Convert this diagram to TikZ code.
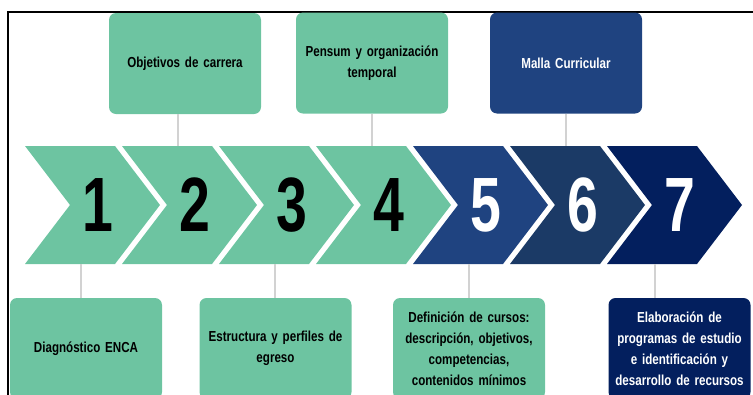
\documentclass[tikz,border=0pt]{standalone}
\usepackage{fontspec}
\setmainfont{Liberation Sans}
\newfontfamily\labelfont{Liberation Sans}[FakeStretch=0.8]
\newfontfamily\digitfont{Liberation Sans}[FakeStretch=0.72]
\usetikzlibrary{calc}

\definecolor{stepgreen}{HTML}{6DC4A1}
\definecolor{stepblueA}{HTML}{1F4380}
\definecolor{stepblueB}{HTML}{1B3A66}
\definecolor{stepblueC}{HTML}{031F5E}
\definecolor{conngray}{HTML}{D2D2D2}

\tikzset{
  stagebox/.style={rounded corners=7pt, minimum width=152pt, minimum height=101pt,
    text width=142pt, align=center, inner sep=0pt,
    font={\labelfont\bfseries\fontsize{14.5}{21}\selectfont}},
  stagenum/.style={inner sep=0pt, font={\digitfont\bfseries\fontsize{77}{77}\selectfont}},
  conn/.style={draw=conngray, line width=1.8pt},
}

\begin{document}
\begin{tikzpicture}[x=1pt, y=-1pt]
\useasboundingbox (0,0) rectangle (753,394);
\clip (0,0) rectangle (753,394);

% frame
\draw[line width=2pt] (8,410) -- (8,12) -- (760,12);

% chevrons
\foreach \i/\col/\txt in {1/stepgreen/black, 2/stepgreen/black, 3/stepgreen/black,
    4/stepgreen/black, 5/stepblueA/white, 6/stepblueB/white, 7/stepblueC/white} {
  \pgfmathsetmacro\L{25+97*(\i-1)}
  \fill[\col] (\L,146) -- ++(90,0) -- ++(45,59) -- ++(-45,59) -- ++(-90,0) -- ++(45,-59) -- cycle;
  \node[stagenum, text=\txt] (num\i) at (\L+73,205) {\i};
  \coordinate (top\i) at (\L+56,146);
  \coordinate (bot\i) at (\L+56,264);
}

% upper stages
\node[stagebox, fill=stepgreen] (objetivos) at (185,63.5) {Objetivos de carrera\\[10pt]};
\node[stagebox, fill=stepgreen] (pensum) at (372,63) {Pensum y organización\\ temporal};
\node[stagebox, fill=stepblueA, text=white] (malla) at (566,63) {Malla Curricular};

% lower stages
\node[stagebox, fill=stepgreen] (diagnostico) at (86,348.5) {Diagnóstico ENCA};
\node[stagebox, fill=stepgreen] (estructura) at (275.5,348.5) {Estructura y perfiles de\\ egreso};
\node[stagebox, fill=stepgreen] (definicion) at (469,348.5)
  {Definición de cursos:\\ descripción, objetivos,\\ competencias,\\ contenidos mínimos};
\node[stagebox, fill=stepblueC, text=white, minimum width=141pt] (elaboracion) at (679.5,348.5)
  {Elaboración de\\ programas de estudio\\ e identificación y\\ desarrollo de recursos};

\draw[conn] (objetivos.south -| top2) -- (top2);
\draw[conn] (pensum.south -| top4) -- (top4);
\draw[conn] (malla.south -| top6) -- (top6);
\draw[conn] (bot1) -- (bot1 |- diagnostico.north);
\draw[conn] (bot3) -- (bot3 |- estructura.north);
\draw[conn] (bot5) -- (bot5 |- definicion.north);
\draw[conn] ([xshift=-8pt]bot7) -- ([xshift=-8pt]bot7 |- elaboracion.north);
\end{tikzpicture}
\end{document}
